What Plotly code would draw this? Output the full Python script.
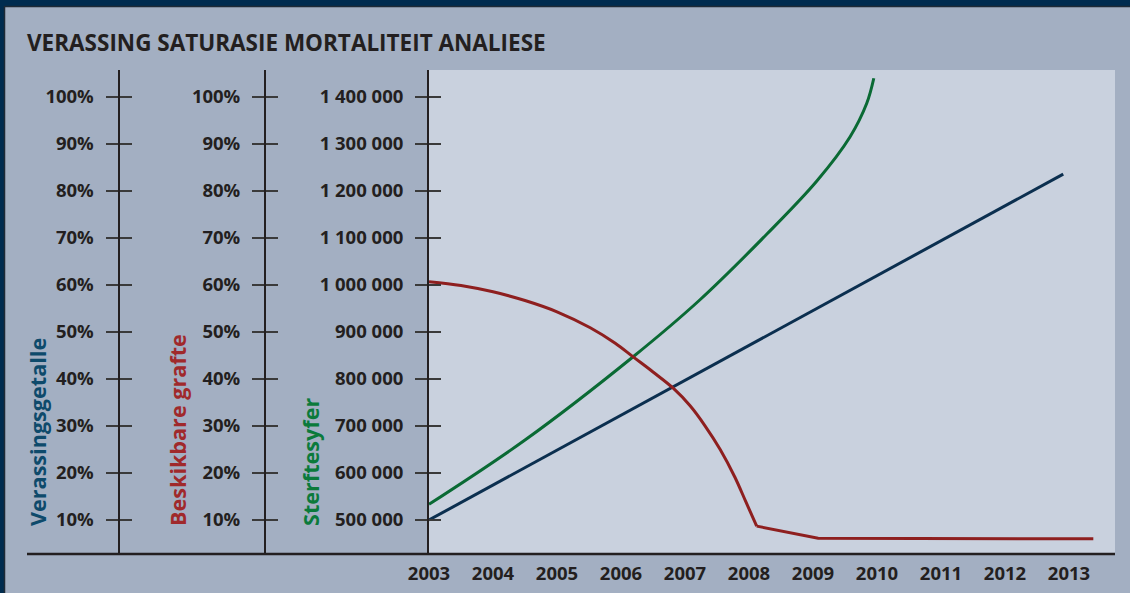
import plotly.graph_objects as go

# ---------------- data ----------------
years_blue = [2003.0, 2012.91]
verassing_pct = [10.0, 83.6]

years_red = [2003.0, 2003.5, 2004.0, 2004.5, 2005.0, 2005.52, 2005.91, 2006.19,
             2006.5, 2006.82, 2007.08, 2007.31, 2007.55, 2007.78, 2007.95, 2008.12,
             2009.08, 2013.38]
grafte_pct = [60.7, 59.9, 58.55, 56.7, 54.3, 50.9, 47.6, 44.7,
              41.5, 38.0, 34.3, 30.1, 25.0, 19.1, 13.9, 8.7,
              6.1, 6.0]

years_green = [2003.0, 2004.5, 2006.19, 2007.23, 2008.28, 2009.06, 2009.58, 2009.84, 2009.95]
sterfte = [533400, 670200, 847400, 968100, 1108500, 1221300, 1315500, 1386600, 1439800]

pct_ticks = [10, 20, 30, 40, 50, 60, 70, 80, 90, 100]
pct_labels = ["10%", "20%", "30%", "40%", "50%", "60%", "70%", "80%", "90%", "100%"]
people_ticks = [500000, 600000, 700000, 800000, 900000, 1000000, 1100000,
                1200000, 1300000, 1400000]
people_labels = ["500 000", "600 000", "700 000", "800 000", "900 000", "1 000 000",
                 "1 100 000", "1 200 000", "1 300 000", "1 400 000"]
year_ticks = [2003, 2004, 2005, 2006, 2007, 2008, 2009, 2010, 2011, 2012, 2013]

title_text = "VERASSING SATURASIE MORTALITEIT ANALIESE"
axis_titles = ["Verassingsgetalle", "Beskikbare grafte", "Sterftesyfer"]

# ---------------- styling ----------------
W, H = 1130, 593
ML, MR, MT, MB = 20, 15, 70, 39
PW = W - ML - MR
PH = H - MT - MB

def fx(px):
    return (px - ML) / PW

def fy(py):
    return (H - MB - py) / PH

PAPER = "#A3AFC2"
PLOT = "#C9D1DE"
NAVY = "#002C4F"
DARK = "#231F20"
TICKC = "#3A3A3A"
BLUE = "#0B2F4F"
RED = "#8E1F1F"
GREEN = "#0A6A34"
FONT = "Open Sans"

pct_range = [10 - 34 / 4.7, 10 + 450 / 4.7]
ppl_range = [500000 - 34 / 47 * 100000, 500000 + 450 / 47 * 100000]

KINK = 15  # index where the smooth decline of the red series ends

fig = go.Figure()
fig.add_trace(go.Scatter(x=years_blue, y=verassing_pct, mode="lines", yaxis="y2",
                         line=dict(color=BLUE, width=3), hoverinfo="skip"))
fig.add_trace(go.Scatter(x=years_green, y=sterfte, mode="lines", yaxis="y",
                         line=dict(color=GREEN, width=3, shape="spline", smoothing=1),
                         hoverinfo="skip"))
fig.add_trace(go.Scatter(x=years_red[:KINK + 1], y=grafte_pct[:KINK + 1], mode="lines",
                         yaxis="y3", line=dict(color=RED, width=3, shape="spline", smoothing=1),
                         hoverinfo="skip"))
fig.add_trace(go.Scatter(x=years_red[KINK:], y=grafte_pct[KINK:], mode="lines",
                         yaxis="y3", line=dict(color=RED, width=3), hoverinfo="skip"))

tickfont = dict(family=FONT, size=18.5, color=DARK, weight="bold")

def ax_common(rng, tv, tt, show_labels=True, ticks="outside"):
    d = dict(range=rng, tickvals=tv, ticktext=tt, ticks=ticks, ticklen=12,
             tickwidth=2, tickcolor=TICKC, showgrid=False, zeroline=False,
             showline=True, linecolor=DARK, linewidth=2, tickfont=tickfont,
             showticklabels=show_labels, fixedrange=True, automargin=False)
    if show_labels:
        d["ticklabelstandoff"] = 8
    return d

pos1 = fx(118.5)
pos2 = fx(265)
x0 = fx(429)

layout = dict(
    width=W, height=H,
    margin=dict(l=ML, r=MR, t=MT, b=MB, autoexpand=False),
    paper_bgcolor=PAPER, plot_bgcolor=PLOT,
    showlegend=False,
    xaxis=dict(domain=[x0, 1], range=[2003, 2003 + (1115 - 429) / 64],
               tickvals=year_ticks, ticktext=[str(y) for y in year_ticks],
               ticks="", showgrid=False, zeroline=False, showline=False,
               tickfont=tickfont, ticklabelstandoff=6, fixedrange=True, automargin=False),
    yaxis=dict(**ax_common(ppl_range, people_ticks, people_labels), anchor="x", side="left"),
    yaxis4=dict(**ax_common(ppl_range, people_ticks, people_labels, False, "inside"),
                anchor="x", side="left", overlaying="y"),
    yaxis2=dict(**ax_common(pct_range, pct_ticks, pct_labels), anchor="free",
                position=pos1, side="left", overlaying="y"),
    yaxis5=dict(**ax_common(pct_range, pct_ticks, pct_labels, False, "inside"),
                anchor="free", position=pos1, side="left", overlaying="y"),
    yaxis3=dict(**ax_common(pct_range, pct_ticks, pct_labels), anchor="free",
                position=pos2, side="left", overlaying="y"),
    yaxis6=dict(**ax_common(pct_range, pct_ticks, pct_labels, False, "inside"),
                anchor="free", position=pos2, side="left", overlaying="y"),
)
fig.update_layout(**layout)

# invisible traces so the overlay tick axes render
for ya in ["y4", "y5", "y6"]:
    fig.add_trace(go.Scatter(x=[None], y=[None], yaxis=ya, mode="lines",
                             hoverinfo="skip", showlegend=False))

shapes = [
    dict(type="line", xref="paper", yref="paper", x0=fx(27), x1=1, y0=0, y1=0,
         line=dict(color=DARK, width=2.5)),
    dict(type="rect", xref="paper", yref="paper", x0=fx(0), x1=fx(W), y0=fy(0), y1=fy(6),
         fillcolor=NAVY, line=dict(width=0), layer="above"),
    dict(type="line", xref="paper", yref="paper", x0=fx(5), x1=fx(W), y0=fy(6.5), y1=fy(6.5),
         line=dict(color="#1E2A36", width=1.5)),
    dict(type="rect", xref="paper", yref="paper", x0=fx(0), x1=fx(4), y0=fy(H), y1=fy(0),
         fillcolor=NAVY, line=dict(width=0), layer="above"),
    dict(type="line", xref="paper", yref="paper", x0=fx(4.5), x1=fx(4.5), y0=fy(H), y1=fy(6),
         line=dict(color="#1E2A36", width=1.5)),
]
fig.update_layout(shapes=shapes)

ann = [
    dict(text=title_text, xref="paper", yref="paper", x=fx(25), y=fy(43),
         xanchor="left", yanchor="middle", showarrow=False,
         font=dict(family=FONT, size=22.5, color=DARK, weight="bold")),
    dict(text=axis_titles[0], xref="paper", yref="paper", x=fx(37), y=fy(528),
         xanchor="center", yanchor="bottom", textangle=-90, showarrow=False,
         font=dict(family=FONT, size=21.6, color="#0E4A6B", weight="bold")),
    dict(text=axis_titles[1], xref="paper", yref="paper", x=fx(177), y=fy(528),
         xanchor="center", yanchor="bottom", textangle=-90, showarrow=False,
         font=dict(family=FONT, size=21.6, color="#A0292B", weight="bold")),
    dict(text=axis_titles[2], xref="paper", yref="paper", x=fx(310), y=fy(528),
         xanchor="center", yanchor="bottom", textangle=-90, showarrow=False,
         font=dict(family=FONT, size=21.6, color="#0B7A3B", weight="bold")),
]
fig.update_layout(annotations=ann)

fig.write_html("out.html", config={"displayModeBar": False},
               post_script="document.body.style.margin='0px';document.body.style.overflow='hidden';")
